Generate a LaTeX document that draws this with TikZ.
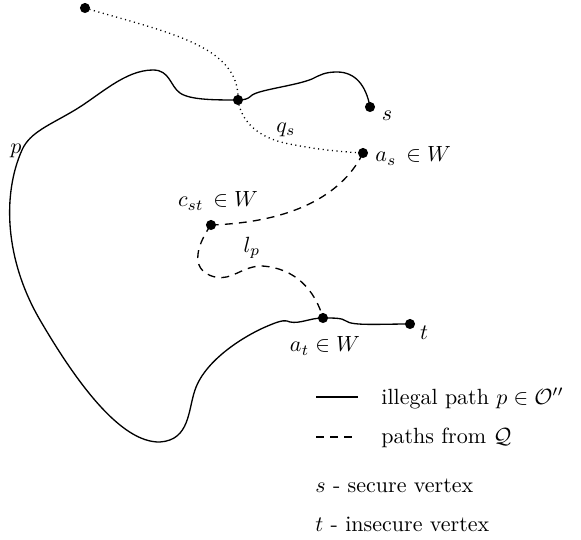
\documentclass[tikz,border=0pt]{standalone}
\usepackage{amsmath,amssymb}
\begin{document}
\begin{tikzpicture}[x=0.4545pt,y=-0.4545pt,
  dot/.style={circle,fill=black,inner sep=0pt,minimum size=4.6pt},
  ppath/.style={semithick},
  qdot/.style={semithick,dash pattern=on 0.5pt off 1.6pt},
  qdash/.style={semithick,dash pattern=on 3.6pt off 2.8pt},
  lbl/.style={inner sep=0pt}]
\useasboundingbox (0,0) rectangle (581,540);
% vertices
\coordinate (top) at (85,8);
\coordinate (J) at (238,100);
\coordinate (S) at (370,107);
\coordinate (As) at (363,153);
\coordinate (Cst) at (211,225);
\coordinate (At) at (323,318);
\coordinate (T) at (410,324);
% illegal path p
\draw[ppath] (J) .. controls (215,100) and (190,100) .. (180,93)
  .. controls (170,86) and (170,70) .. (153,70)
  .. controls (125,70) and (100,95) .. (75,110)
  .. controls (50,125) and (30,132) .. (22,150)
  .. controls (2,195) and (5,260) .. (40,320)
  .. controls (75,380) and (120,443) .. (160,442)
  .. controls (190,440) and (188,410) .. (195,390)
  .. controls (205,360) and (245,335) .. (270,325)
  .. controls (282,320) and (286,320) .. (290,322)
  .. controls (300,324) and (310,318) .. (At)
  .. controls (335,318) and (342,318) .. (346,321)
  .. controls (352,326) and (380,324) .. (T);
\draw[ppath] (J) .. controls (244,100) and (248,99) .. (251,96)
  .. controls (256,90) and (295,86) .. (312,79)
  .. controls (320,75) and (325,72) .. (337,72)
  .. controls (355,72) and (366,85) .. (S);
% dotted path q_s
\draw[qdot] (top) .. controls (165,32) and (240,45) .. (J);
\draw[qdot] (J) .. controls (242,125) and (262,140) .. (295,145)
  .. controls (320,150) and (345,152) .. (As);
% dashed paths
\draw[qdash] (As) .. controls (345,190) and (300,222) .. (Cst);
\draw[qdash] (Cst) .. controls (200,240) and (186,270) .. (215,277)
  .. controls (232,281) and (242,266) .. (262,266)
  .. controls (295,268) and (315,290) .. (At);
% dots
\foreach \v in {top,J,S,As,Cst,At,T} \node[dot] (d\v) at (\v) {};
% labels
\node[lbl] (lp) at (16,151) {$p$};
\node[lbl] (ls) at (387,116) {$s$};
\node[lbl] (lqs) at (286,130) {$q_s$};
\node[lbl,anchor=west] (las) at (375,156) {$a_s\,\in W$};
\node[lbl] (lcst) at (218,201) {$c_{st}\,\in W$};
\node[lbl] (llp) at (252,248) {$l_p$};
\node[lbl] (lat) at (325,346) {$a_t\in W$};
\node[lbl] (lt) at (424,333) {$t$};
% legend
\coordinate (l1a) at (316,397); \coordinate (l1b) at (358,397);
\coordinate (l2a) at (316,437); \coordinate (l2b) at (358,437);
\draw[ppath] (l1a) -- (l1b);
\draw[qdash] (l2a) -- (l2b);
\node[lbl,anchor=west] (t1) at (381,398) {illegal path $p\in\mathcal{O}''$};
\node[lbl,anchor=west] (t2) at (381,438) {paths from $\mathcal{Q}$};
\node[lbl,anchor=west] (t3) at (315,486) {$s$ - secure vertex};
\node[lbl,anchor=west] (t4) at (315,524) {$t$ - insecure vertex};
\end{tikzpicture}
\end{document}
